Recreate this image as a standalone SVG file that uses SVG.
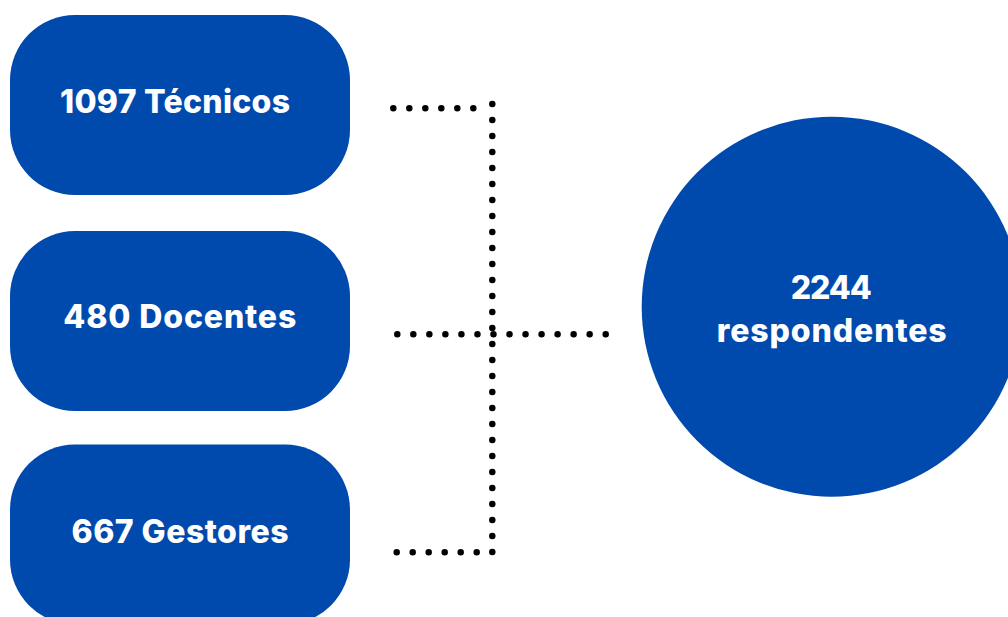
<svg xmlns="http://www.w3.org/2000/svg" width="1008" height="617" viewBox="0 0 1008 617">
<style>
.box{fill:#004AAD}
.lbl{fill:#ffffff;font-family:Inter,"Open Sans","Liberation Sans",sans-serif;font-weight:800;font-size:32px;text-anchor:middle}
.dot{fill:none;stroke:#000;stroke-width:6.5;stroke-linecap:round;stroke-dasharray:0 16}
</style>
<rect width="1008" height="617" fill="#ffffff"/>
<g id="connectors">
<line class="dot" x1="393.3" y1="108.3" x2="474" y2="108.3"/>
<line class="dot" x1="492.3" y1="104" x2="492.3" y2="553"/>
<line class="dot" x1="397.3" y1="334.3" x2="606.5" y2="334.3" style="stroke-dasharray:0 16.03"/>
<line class="dot" x1="396.7" y1="552.3" x2="477.5" y2="552.3"/>
</g>
<g id="tecnicos">
<rect class="box" x="10" y="15" width="340" height="180" rx="65" ry="65"/>
<text class="lbl" x="175" y="113.3" textLength="230">1097 Técnicos</text>
</g>
<g id="docentes">
<rect class="box" x="10" y="231" width="340" height="180" rx="65" ry="65"/>
<text class="lbl" x="179.8" y="328.3" textLength="233">480 Docentes</text>
</g>
<g id="gestores">
<rect class="box" x="10" y="444.5" width="340" height="180" rx="65" ry="65"/>
<text class="lbl" x="180" y="542.7" textLength="217">667 Gestores</text>
</g>
<g id="respondentes">
<circle class="box" cx="831.7" cy="306.7" r="190"/>
<text class="lbl" x="831.3" y="299" textLength="81">2244</text>
<text class="lbl" x="831.7" y="342" textLength="230">respondentes</text>
</g>
</svg>
